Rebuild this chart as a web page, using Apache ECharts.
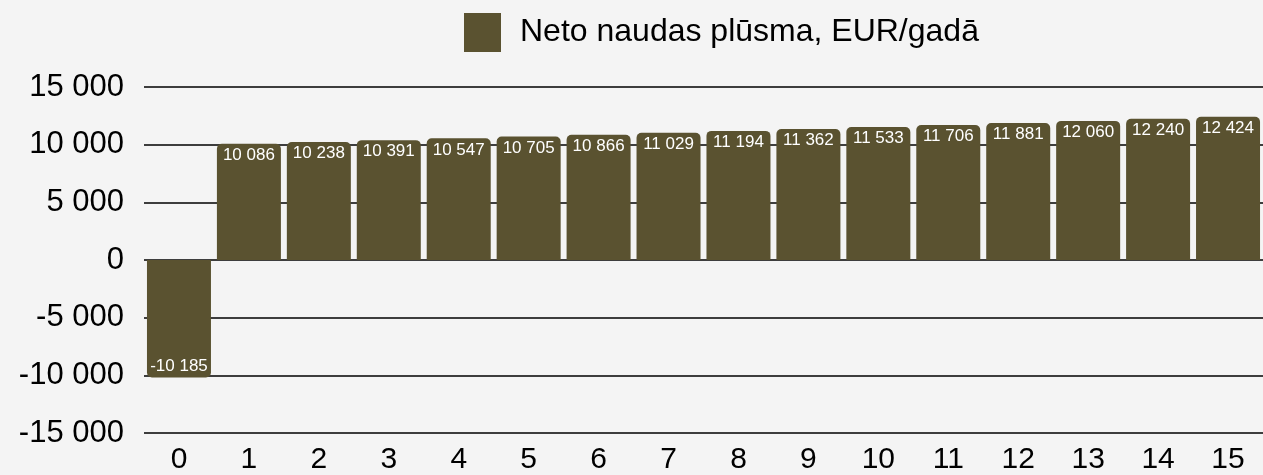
<!DOCTYPE html>
<html>
<head>
<meta charset="utf-8">
<script src="https://cdn.jsdelivr.net/npm/echarts@6/dist/echarts.min.js"></script>
<style>
  html, body { margin: 0; padding: 0; background: #f4f4f4; }
  #chart { width: 1263px; height: 475px; }
</style>
</head>
<body>
<div id="chart"></div>
<script>
const years = ['0', '1', '2', '3', '4', '5', '6', '7', '8', '9', '10', '11', '12', '13', '14', '15']
const netCashFlow = [-10185, 10086, 10238, 10391, 10547, 10705, 10866, 11029, 11194, 11362, 11533, 11706, 11881, 12060, 12240, 12424]
const seriesName = 'Neto naudas plūsma, EUR/gadā'

// 12345 -> "12 345"
const fmt = (v) => {
  const s = String(Math.abs(Math.round(v))).replace(/\B(?=(\d{3})+(?!\d))/g, ' ')
  return (v < 0 ? '-' : '') + s
}

const chart = echarts.init(document.getElementById('chart'))

const option = {
  backgroundColor: '#f4f4f4',
  textStyle: { fontFamily: 'Liberation Sans, Arial, sans-serif' },
  animation: false,
  legend: {
    left: 459,
    top: 8,
    itemWidth: 37,
    itemHeight: 39,
    icon: 'rect',
    textStyle: { fontSize: 32, color: '#000', padding: [0, 0, 0, 14] },
    data: [seriesName]
  },
  grid: {
    left: 144,
    right: -16,
    top: 87,
    bottom: 40
  },
  xAxis: {
    type: 'category',
    data: years,
    axisLine: { show: false },
    axisTick: { show: false },
    axisLabel: { fontSize: 30, color: '#000', margin: 12 }
  },
  yAxis: {
    type: 'value',
    min: -15000,
    max: 15000,
    interval: 5000,
    axisLine: { show: false },
    axisTick: { show: false },
    axisLabel: {
      fontSize: 31,
      color: '#000',
      margin: 20,
      padding: [6, 0, 0, 0],
      formatter: fmt
    },
    splitLine: { lineStyle: { color: '#000', width: 1.5 } }
  },
  series: [
    {
      name: seriesName,
      type: 'bar',
      barCategoryGap: '8.5%',
      itemStyle: { color: '#5a5230' },
      label: {
        show: true,
        position: 'insideTop',
        distance: 3,
        color: '#fff',
        fontSize: 17,
        formatter: (p) => fmt(p.value)
      },
      data: netCashFlow.map((v) => v < 0
        ? { value: v, itemStyle: { borderRadius: [0, 0, 5, 5] }, label: { position: 'insideBottom' } }
        : { value: v, itemStyle: { borderRadius: [5, 5, 0, 0] } })
    }
  ]
}

chart.setOption(option)
</script>
</body>
</html>
